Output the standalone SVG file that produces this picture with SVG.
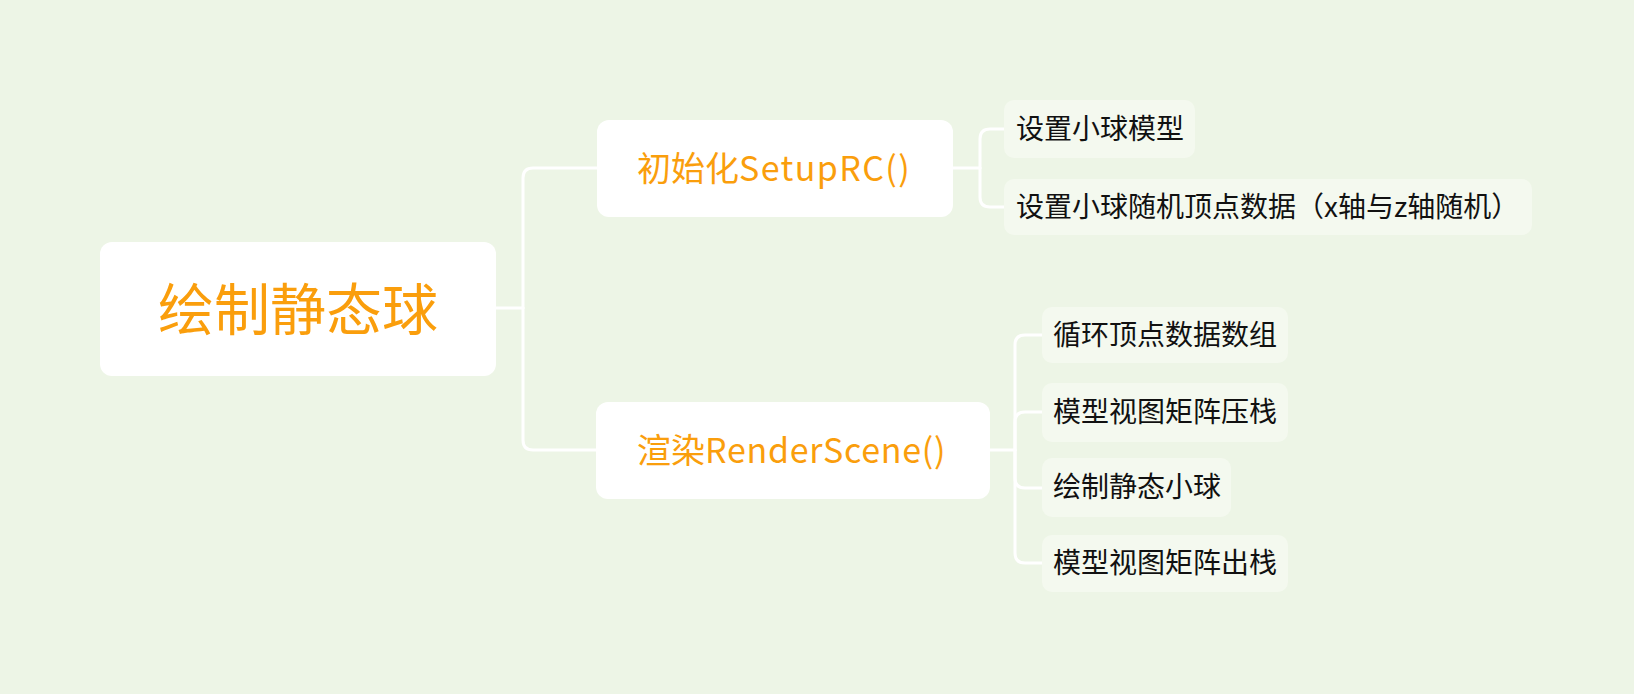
<svg xmlns="http://www.w3.org/2000/svg" width="1634" height="694" viewBox="0 0 1634 694">
<style>
.bg{fill:#edf5e6}
.main{fill:#ffffff}
.sub{fill:#f4f9ef}
.lt{font-family:"Noto Sans CJK SC","Noto Sans",sans-serif;fill:#fa9e0c;font-weight:400}
.st{font-family:"Noto Sans CJK SC","Noto Sans",sans-serif;fill:#111111;font-size:28px;font-weight:400}
.conn path{fill:none;stroke:#ffffff;stroke-width:3;stroke-linecap:round}
</style>
<rect class="bg" x="0" y="0" width="1634" height="694"/>
<g class="conn" id="connectors">
<path d="M496 308 H523"/>
<path d="M523 308 V178 Q523 168 533 168 H597"/>
<path d="M523 308 V440 Q523 450 533 450 H596"/>
<path d="M953 168 H980"/>
<path d="M980 168 V139 Q980 129 990 129 H1004"/>
<path d="M980 168 V197 Q980 207 990 207 H1004"/>
<path d="M990 450 H1015"/>
<path d="M1015 450 V345 Q1015 335 1025 335 H1042"/>
<path d="M1015 450 V422 Q1015 412 1025 412 H1042"/>
<path d="M1015 450 V478 Q1015 488 1025 488 H1042"/>
<path d="M1015 450 V553 Q1015 563 1025 563 H1042"/>
</g>
<g id="root">
<rect class="main" x="100" y="242" width="396" height="134" rx="12"/>
<text class="lt" x="298" y="330" font-size="56" text-anchor="middle">绘制静态球</text>
</g>
<g id="setup">
<rect class="main" x="597" y="120" width="356" height="97" rx="12"/>
<text class="lt" x="637" y="181" font-size="34">初始化<tspan letter-spacing="1.4">SetupRC()</tspan></text>
</g>
<g id="render">
<rect class="main" x="596" y="402" width="394" height="97" rx="12"/>
<text class="lt" x="637" y="463" font-size="34">渲染<tspan letter-spacing="0.7">RenderScene()</tspan></text>
</g>
<g id="s1">
<rect class="sub" x="1004" y="100" width="191" height="58" rx="10"/>
<text class="st" x="1016" y="139">设置小球模型</text>
</g>
<g id="s2">
<rect class="sub" x="1004" y="179" width="528" height="56" rx="10"/>
<text class="st" x="1016" y="217">设置小球随机顶点数据（x轴与z轴随机）</text>
</g>
<g id="r1">
<rect class="sub" x="1042" y="307" width="246" height="56" rx="10"/>
<text class="st" x="1053" y="345">循环顶点数据数组</text>
</g>
<g id="r2">
<rect class="sub" x="1042" y="383" width="246" height="59" rx="10"/>
<text class="st" x="1053" y="422">模型视图矩阵压栈</text>
</g>
<g id="r3">
<rect class="sub" x="1042" y="458" width="189" height="59" rx="10"/>
<text class="st" x="1053" y="497">绘制静态小球</text>
</g>
<g id="r4">
<rect class="sub" x="1042" y="535" width="246" height="57" rx="10"/>
<text class="st" x="1053" y="573">模型视图矩阵出栈</text>
</g>
</svg>
